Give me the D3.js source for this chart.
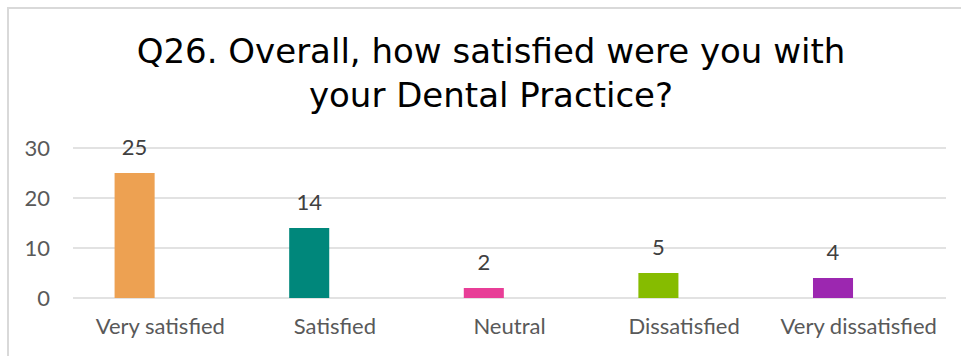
<!DOCTYPE html>
<html>
<head>
<meta charset="utf-8">
<script src="https://cdn.jsdelivr.net/npm/d3@7"></script>
<style>
  html, body { margin: 0; padding: 0; background: #fff; }
  svg { display: block; }
</style>
</head>
<body>
<div id="chart"></div>
<script>
// Survey responses for Q26
const categories = ["Very satisfied", "Satisfied", "Neutral", "Dissatisfied", "Very dissatisfied"];
const responses = [25, 14, 2, 5, 4];
const barColors = ["#eda152", "#00877b", "#e83e97", "#86bc00", "#9c27b0"];
const yTicks = [0, 10, 20, 30];
const titleLines = ["Q26. Overall, how satisfied were you with", "your Dental Practice?"];
// Series slots per category: the response bar plus an empty companion slot
const seriesSlots = ["Responses", "(blank)"];

const W = 961, H = 356;
const plot = { left: 73, right: 946, top: 148, bottom: 298 };
const labelFont = "Lato, 'Open Sans', sans-serif";

const svg = d3.select("#chart").append("svg")
  .attr("width", W).attr("height", H);

// chart area frame (top and left edges visible)
svg.append("path")
  .attr("d", `M8,${H + 2} L8,8 L${W + 2},8`)
  .attr("fill", "none")
  .attr("stroke", "#d9d9d9")
  .attr("stroke-width", 2);

// title
const title = svg.append("text")
  .attr("text-anchor", "middle")
  .attr("font-family", "'DejaVu Sans', sans-serif")
  .attr("font-size", 34)
  .attr("fill", "#000");
titleLines.forEach((line, i) => {
  title.append("tspan")
    .attr("x", 491)
    .attr("y", 63 + i * 44)
    .text(line);
});

const x = d3.scaleBand()
  .domain(categories)
  .range([plot.left, plot.right])
  .padding(0);

const xSlot = d3.scaleBand()
  .domain(seriesSlots)
  .range([0, x.bandwidth()])
  .paddingInner(0)
  .paddingOuter(1.18)
  .align(0.44);

const y = d3.scaleLinear()
  .domain([0, 30])
  .range([plot.bottom, plot.top]);

// gridlines
svg.append("g")
  .selectAll("line")
  .data(yTicks)
  .join("line")
  .attr("x1", plot.left)
  .attr("x2", plot.right)
  .attr("y1", d => y(d))
  .attr("y2", d => y(d))
  .attr("stroke", "#d9d9d9")
  .attr("stroke-width", 1.5);

// y axis labels
const yAxis = svg.append("g")
  .attr("transform", `translate(${plot.left - 23},0)`)
  .call(d3.axisLeft(y).tickValues(yTicks).tickSize(0).tickPadding(0));
yAxis.select(".domain").remove();
yAxis.selectAll("text")
  .attr("font-family", labelFont)
  .attr("font-size", 22)
  .attr("fill", "#595959")
  .attr("dy", "0.35em");

// x axis labels
const xAxis = svg.append("g")
  .attr("transform", `translate(0,${plot.bottom})`)
  .call(d3.axisBottom(x).tickSize(0).tickPadding(0));
xAxis.select(".domain").remove();
xAxis.selectAll("text")
  .attr("font-family", labelFont)
  .attr("font-size", 22)
  .attr("fill", "#595959")
  .attr("dy", null)
  .attr("y", 36);

// bars
const data = categories.map((c, i) => ({ category: c, value: responses[i], color: barColors[i] }));
svg.append("g")
  .selectAll("rect")
  .data(data)
  .join("rect")
  .attr("x", d => x(d.category) + xSlot("Responses"))
  .attr("width", xSlot.bandwidth())
  .attr("y", d => y(d.value))
  .attr("height", d => y(0) - y(d.value))
  .attr("fill", d => d.color);

// value labels
svg.append("g")
  .selectAll("text")
  .data(data)
  .join("text")
  .attr("x", d => x(d.category) + xSlot("Responses") + xSlot.bandwidth() / 2)
  .attr("y", d => y(d.value) - 18)
  .attr("text-anchor", "middle")
  .attr("font-family", labelFont)
  .attr("font-size", 22)
  .attr("fill", "#404040")
  .text(d => d.value);
</script>
</body>
</html>
